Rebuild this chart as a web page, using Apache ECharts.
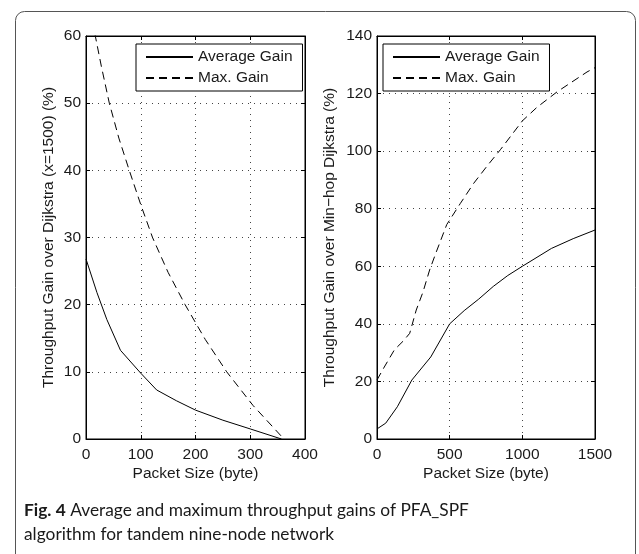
<!DOCTYPE html>
<html>
<head>
<meta charset="utf-8">
<script src="https://cdn.jsdelivr.net/npm/echarts@6/dist/echarts.min.js"></script>
<style>
html,body{margin:0;padding:0;background:#fff;}
#c{width:639px;height:554px;}
</style>
</head>
<body>
<div id="c"></div>
<script>
// Left panel: gain over Dijkstra (x=1500)
var leftAvg = [[0,26.8],[20,21.8],[38,17.8],[63,13.2],[100,9.8],[129,7.3],[165,5.7],[200,4.3],[250,2.8],[300,1.5],[357,0]];
var leftMax = [[0,68],[17,60],[28,55.5],[42.6,50],[60,44.8],[79,40],[100,34.9],[121.5,30],[150,24.8],[181,20],[218,14.8],[257,10],[305,5],[357,0.4]];
// Right panel: gain over Min-hop Dijkstra
var rightAvg = [[0,3.5],[60,5.5],[140,11.2],[240,20.5],[370,28.5],[500,40],[600,44.6],[700,48.6],[800,53],[900,56.8],[1000,60],[1200,66.2],[1350,69.6],[1500,72.6]];
var rightMax = [[0,20.5],[50,25],[120,31],[180,34],[225,36.7],[270,44.8],[316,51],[362,58.7],[408,65],[480,74.5],[573,81.8],[665,88.8],[760,95],[849,100.5],[1000,110.5],[1100,115.2],[1239,120.6],[1445,127.5],[1500,129]];
var seriesNames = ['Average Gain','Max. Gain'];
var xLabel = 'Packet Size (byte)';
var yLabelLeft = 'Throughput Gain over Dijkstra (x=1500) (%)';
var yLabelRight = 'Throughput Gain over Min\u2212hop Dijkstra (%)';
var captionBold = 'Fig. 4';
var captionRest1 = ' Average and maximum throughput gains of PFA_SPF';
var captionLine2 = 'algorithm for tandem nine-node network';

var FONT = 'Liberation Sans, Arial, sans-serif';
var FS = 15.5;
var txt = {color:'#1a1a1a', fontFamily:FONT, fontSize:FS};
function fmt(v){ return String(v); }

function xAx(grid, max, interval, pos, main){
  return {
    type:'value', gridIndex:grid, min:0, max:max, interval:interval, position:pos,
    name: main ? xLabel : '', nameLocation:'middle', nameGap:27, nameMoveOverlap:false,
    nameTextStyle: txt,
    axisLine:{show:true, onZero:false, lineStyle:{color:'#000', width:1}},
    axisTick:{show:true, inside:true, length:4, lineStyle:{color:'#000'}},
    axisLabel:{show:main, margin:8, color:txt.color, fontFamily:FONT, fontSize:FS, formatter:fmt},
    splitLine:{show:main, lineStyle:{color:'#444', width:1, type:[1,5]}}
  };
}
function yAx(grid, max, interval, pos, main, name, gap){
  return {
    type:'value', gridIndex:grid, min:0, max:max, interval:interval, position:pos,
    name: main ? name : '', nameLocation:'middle', nameGap:gap, nameMoveOverlap:false,
    nameTextStyle: txt,
    axisLine:{show:true, onZero:false, lineStyle:{color:'#000', width:1}},
    axisTick:{show:true, inside:true, length:4, lineStyle:{color:'#000'}},
    axisLabel:{show:main, margin:5, color:txt.color, fontFamily:FONT, fontSize:FS, formatter:fmt},
    splitLine:{show:main, lineStyle:{color:'#444', width:1, type:[1,5]}}
  };
}
function line(name, data, xi, yi, dashed){
  return {
    type:'line', name:name, data:data, xAxisIndex:xi, yAxisIndex:yi,
    symbol:'none', showSymbol:false, smooth:false, silent:true, animation:false,
    lineStyle:{color:'#000', width:1, type: dashed ? [8,5] : 'solid'},
    itemStyle:{color:'#000'}
  };
}
function legend(left){
  return {
    data:seriesNames, orient:'vertical', left:left, top:44,
    itemWidth:47, itemHeight:14, itemGap:5, padding:[5,10,5,9],
    backgroundColor:'#fff', borderColor:'#000', borderWidth:1, borderRadius:0,
    textStyle:{color:'#1a1a1a', fontFamily:FONT, fontSize:FS},
    itemStyle:{color:'rgba(0,0,0,0)', borderWidth:0, opacity:0},
    lineStyle:{inherit:true},
    selectedMode:false
  };
}

var chart = echarts.init(document.getElementById('c'), null, {renderer:'canvas'});
chart.setOption({
  animation:false,
  backgroundColor:'#fff',
  grid:[
    {left:86, top:36, width:219, height:403, show:true, borderColor:'#000', borderWidth:1, backgroundColor:'transparent'},
    {left:377, top:36, width:218, height:403, show:true, borderColor:'#000', borderWidth:1, backgroundColor:'transparent'}
  ],
  xAxis:[
    xAx(0, 400, 100, 'bottom', true),
    xAx(1, 1500, 500, 'bottom', true),
    xAx(0, 400, 100, 'top', false),
    xAx(1, 1500, 500, 'top', false)
  ],
  yAxis:[
    yAx(0, 60, 10, 'left', true, yLabelLeft, 29),
    yAx(1, 140, 20, 'left', true, yLabelRight, 39),
    yAx(0, 60, 10, 'right', false, '', 0),
    yAx(1, 140, 20, 'right', false, '', 0)
  ],
  legend:[legend(136), legend(383)],
  series:[
    line(seriesNames[0], leftAvg, 0, 0, false),
    line(seriesNames[1], leftMax, 0, 0, true),
    line(seriesNames[0], rightAvg, 1, 1, false),
    line(seriesNames[1], rightMax, 1, 1, true)
  ],
  graphic:[
    {type:'rect', shape:{x:15.5, y:11.5, width:620, height:600, r:9}, style:{fill:'none', stroke:'#555', lineWidth:1}, silent:true, z:-10},
    {type:'text', x:24, y:501, scaleX:0.99, style:{
      text:'{b|'+captionBold+'}{n|'+captionRest1+'}',
      rich:{
        b:{fontFamily:'Lato, sans-serif', fontWeight:'bold', fontSize:17.5, fill:'#1a1a1a'},
        n:{fontFamily:'Lato, sans-serif', fontSize:17.5, fill:'#1a1a1a'}
      }
    }},
    {type:'text', x:24, y:525, scaleX:0.99, style:{text:captionLine2, fontFamily:'Lato, sans-serif', fontSize:17.5, fill:'#1a1a1a'}}
  ]
});
</script>
</body>
</html>
